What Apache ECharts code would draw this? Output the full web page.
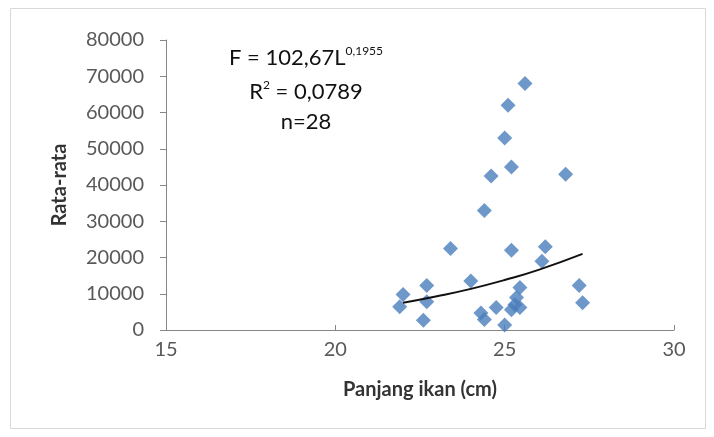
<!DOCTYPE html>
<html><head><meta charset="utf-8">
<script src="https://cdn.jsdelivr.net/npm/echarts@6/dist/echarts.min.js"></script>
<style>html,body{margin:0;padding:0;background:#fff}#c{width:714px;height:437px}</style>
</head><body><div id="c"></div>
<script>
const lengths = [25.6, 25.1, 25.0, 25.2, 24.6, 26.8, 24.4, 23.4, 25.2, 26.2, 26.1, 24.0, 22.0, 21.9, 22.7, 22.7, 22.6, 24.3, 24.4, 24.75, 25.0, 25.45, 25.35, 25.3, 25.45, 25.2, 27.2, 27.3];
const averages = [68000, 62000, 53000, 45000, 42500, 43000, 33000, 22500, 22000, 23000, 19000, 13500, 9800, 6400, 12300, 7800, 2700, 4700, 2900, 6200, 1400, 11700, 9000, 7000, 6200, 5600, 12300, 7500];
const trendX = [22.0, 23.0, 24.0, 25.0, 26.0, 27.3];
const trendY = [7500, 9300, 11350, 13800, 16600, 21000];
const xTicks = [15, 20, 25, 30];
const yTicks = [0, 10000, 20000, 30000, 40000, 50000, 60000, 70000, 80000];

const FONT = 'Lato, "Open Sans", sans-serif';
const chart = echarts.init(document.getElementById('c'));
chart.setOption({
  animation: false,
  backgroundColor: '#fff',
  grid: {left: 166, right: 40, top: 40, bottom: 107},
  xAxis: {
    type: 'value', min: xTicks[0], max: xTicks[xTicks.length-1], interval: 5,
    name: 'Panjang ikan (cm)', nameLocation: 'middle', nameGap: 50,
    nameTextStyle: {fontFamily: FONT, fontSize: 20, fontWeight: 'bold', color: '#333'},
    axisLine: {lineStyle: {color: '#868686', width: 1}},
    axisTick: {show: true, inside: true, length: 5, lineStyle: {color: '#868686'}},
    axisLabel: {fontFamily: FONT, fontSize: 20, color: '#595959', margin: 10},
    splitLine: {show: false}
  },
  yAxis: {
    type: 'value', min: yTicks[0], max: yTicks[yTicks.length-1], interval: 10000,
    name: 'Rata-rata', nameLocation: 'middle', nameGap: 96,
    nameTextStyle: {fontFamily: FONT, fontSize: 20, fontWeight: 'bold', color: '#333'},
    axisLine: {show: true, lineStyle: {color: '#868686', width: 1}},
    axisTick: {show: true, length: 6, lineStyle: {color: '#868686'}},
    axisLabel: {fontFamily: FONT, fontSize: 20, color: '#595959', margin: 22, formatter: v => String(v)},
    splitLine: {show: false}
  },
  series: [
    {
      type: 'scatter', symbol: 'diamond', symbolSize: 15,
      itemStyle: {color: '#4a7ebb'},
      data: lengths.map((x, i) => [x, averages[i]]),
      z: 2
    },
    {
      type: 'line', smooth: true, showSymbol: false,
      lineStyle: {color: '#111', width: 2},
      data: trendX.map((x, i) => [x, trendY[i]]),
      z: 3
    }
  ],
  graphic: [
    {type: 'rect', shape: {x: 10.5, y: 8.5, width: 695, height: 420}, style: {fill: 'none', stroke: '#d9d9d9', lineWidth: 1}, silent: true},
    {type: 'text', x: 306, y: 45, style: {
      text: '{n|F = 102,67L}{s|0,1955}', textAlign: 'center',
      rich: {n: {fontFamily: FONT, fontSize: 22, fill: '#111'}, s: {fontFamily: FONT, fontSize: 12, fill: '#111', padding: [0,0,13,0]}}
    }},
    {type: 'text', x: 306, y: 79, style: {
      text: '{n|R}{s|2}{n| = 0,0789}', textAlign: 'center',
      rich: {n: {fontFamily: FONT, fontSize: 22, fill: '#111'}, s: {fontFamily: FONT, fontSize: 12, fill: '#111', padding: [0,0,13,0]}}
    }},
    {type: 'text', x: 306, y: 111, style: {text: 'n=28', textAlign: 'center', fontFamily: FONT, fontSize: 22, fill: '#111'}}
  ]
});
</script></body></html>
